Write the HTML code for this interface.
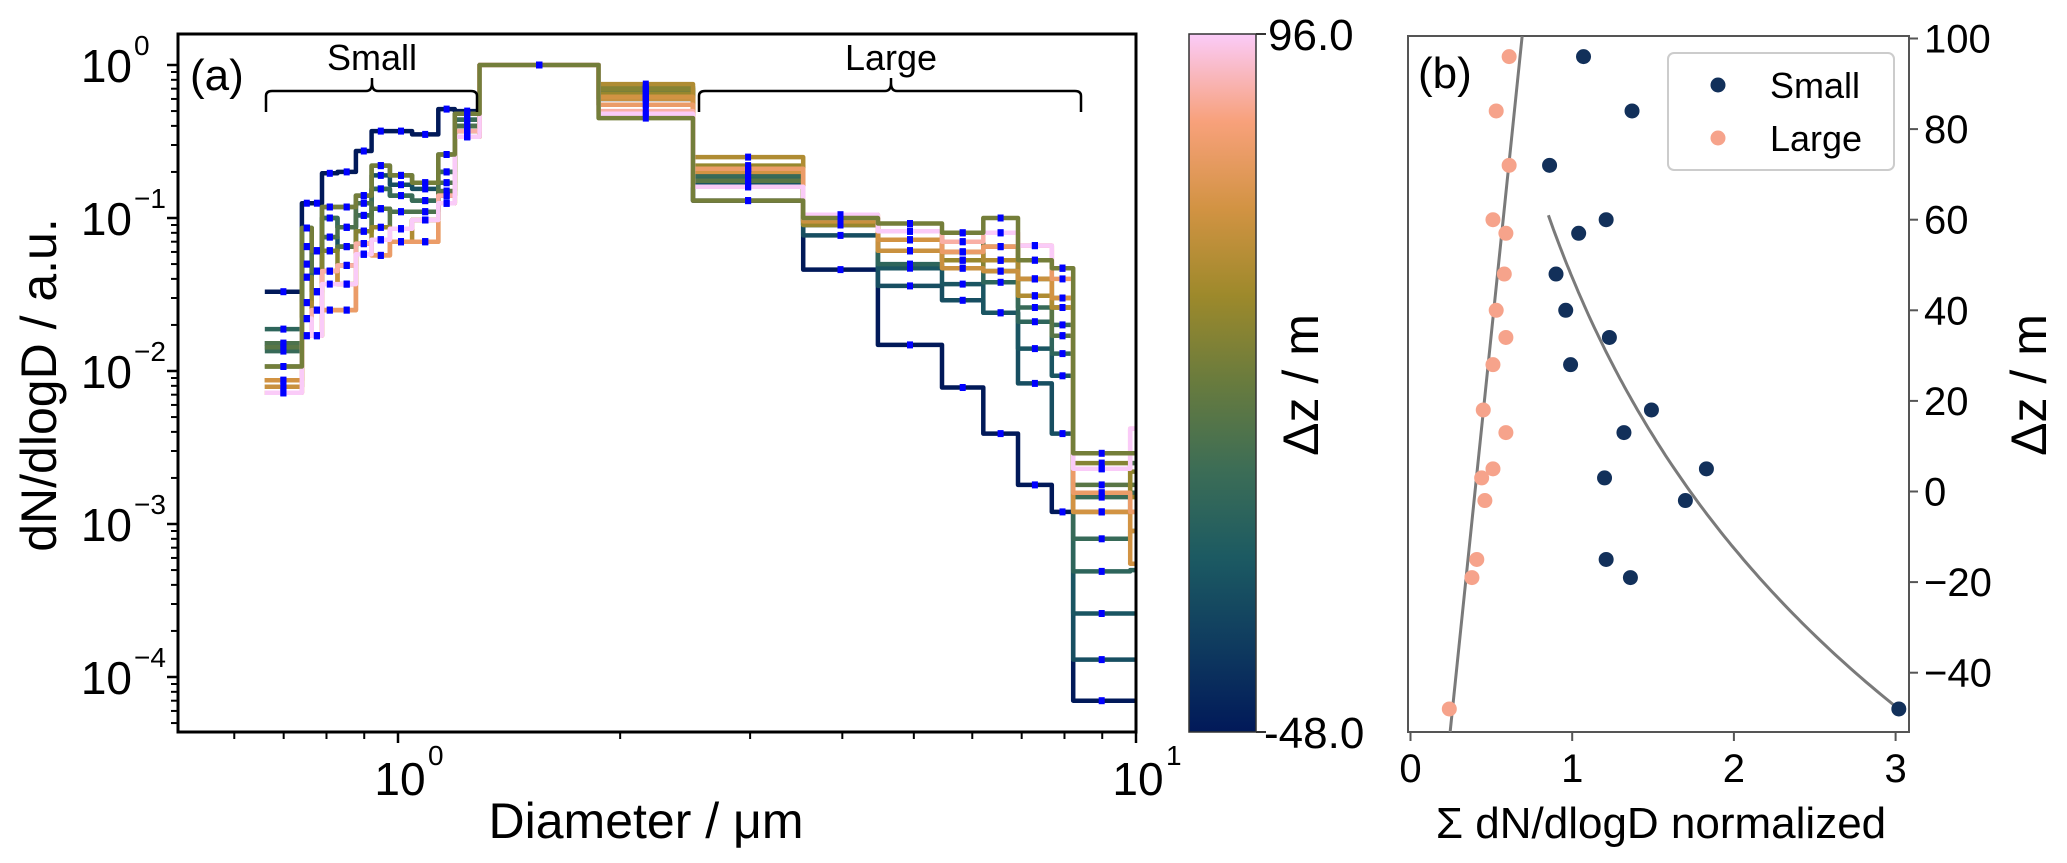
<!DOCTYPE html>
<html><head><meta charset="utf-8"><style>
html,body{margin:0;padding:0;background:#fff;}
svg{display:block;font-family:"Liberation Sans",sans-serif;}
</style></head><body>
<svg id="fig" width="2067" height="863" viewBox="0 0 2067 863" xmlns="http://www.w3.org/2000/svg">
<defs>
<clipPath id="clipA"><rect x="178" y="34" width="958" height="698"/></clipPath>
<linearGradient id="cmap" x1="0" y1="1" x2="0" y2="0">
<stop offset="0" stop-color="#011959"/><stop offset="0.125" stop-color="#0f3b5f"/><stop offset="0.25" stop-color="#1c5a62"/><stop offset="0.375" stop-color="#3c6d56"/><stop offset="0.5" stop-color="#687b3e"/><stop offset="0.625" stop-color="#9d892b"/><stop offset="0.75" stop-color="#d29343"/><stop offset="0.875" stop-color="#f8a17b"/><stop offset="1" stop-color="#facbf8"/>
</linearGradient>
</defs>
<g id="panelA"></g>
<g id="cbar"></g>
<g id="panelB"></g>
</svg>
<script>
// ---- Panel (a) data ----
const binEdges = [0.66,0.741,0.764,0.789,0.828,0.877,0.921,0.975,1.045,1.134,1.194,1.29,1.87,2.51,3.54,4.47,5.46,6.21,6.92,7.69,8.22,9.82,11];
const seriesZ = [-48,-19,-15,-2,3,5,13,18,34,40,48,57,60,72,84,96,28];
const sm48 = [0.033,0.125,0.125,0.196,0.2,0.274,0.37,0.37,0.352,0.515,0.5,1,0.6,0.13,0.046,0.0148,0.0078,0.0039,0.0018,0.0012,0.00007,0.00007];
const sm19 = [0.0152,0.065,0.061,0.1,0.087,0.125,0.19,0.165,0.155,0.2,0.44,1,0.55,0.16,0.077,0.036,0.029,0.024,0.0083,0.0039,0.00013,0.00013];
const sm15 = [0.0143,0.05,0.045,0.075,0.065,0.104,0.155,0.14,0.13,0.17,0.4,1,0.6,0.17,0.09,0.047,0.037,0.024,0.014,0.0093,0.00026,0.00026];
const sm2 = [0.0188,0.086,0.061,0.118,0.118,0.14,0.22,0.19,0.17,0.26,0.48,1,0.65,0.18,0.095,0.05,0.047,0.038,0.021,0.013,0.00049,0.0005];
const s3 = [0.0135,0.041,0.045,0.061,0.065,0.082,0.115,0.11,0.11,0.15,0.37,1,0.62,0.19,0.09,0.061,0.053,0.045,0.026,0.017,0.0008,0.0009];
const s5 = [0.0107,0.086,0.033,0.1,0.087,0.104,0.155,0.14,0.13,0.2,0.44,1,0.7,0.2,0.095,0.072,0.06,0.053,0.031,0.02,0.0015,0.0016];
const s13 = [0.0152,0.05,0.061,0.075,0.087,0.125,0.115,0.11,0.11,0.17,0.4,1,0.68,0.21,0.1,0.061,0.053,0.065,0.04,0.026,0.0012,0.0025];
const s18 = [0.0143,0.065,0.045,0.061,0.065,0.082,0.115,0.085,0.097,0.15,0.37,1,0.72,0.175,0.1,0.082,0.07,0.053,0.031,0.017,0.0018,0.0018];
const s34 = [0.0079,0.041,0.033,0.061,0.049,0.082,0.087,0.085,0.097,0.14,0.37,1,0.7,0.21,0.095,0.072,0.06,0.045,0.04,0.03,0.0025,0.0022];
const s40 = [0.0087,0.028,0.033,0.045,0.049,0.068,0.087,0.085,0.097,0.14,0.37,1,0.65,0.22,0.09,0.061,0.053,0.053,0.04,0.026,0.0023,0.0015];
const s48 = [0.0087,0.028,0.025,0.045,0.037,0.068,0.072,0.07,0.097,0.14,0.34,1,0.75,0.25,0.1,0.072,0.06,0.053,0.031,0.026,0.0016,0.0012];
const s57 = [0.0079,0.022,0.025,0.045,0.037,0.058,0.072,0.07,0.07,0.125,0.34,1,0.6,0.21,0.095,0.061,0.047,0.045,0.04,0.03,0.0012,0.0009];
const s60 = [0.0087,0.022,0.017,0.025,0.025,0.058,0.057,0.07,0.07,0.125,0.34,1,0.62,0.2,0.1,0.072,0.06,0.065,0.053,0.03,0.0012,0.00055];
const s72 = [0.0072,0.017,0.017,0.025,0.025,0.058,0.057,0.07,0.07,0.125,0.34,1,0.55,0.21,0.105,0.082,0.06,0.065,0.066,0.04,0.0016,0.0012];
const s84 = [0.0072,0.017,0.025,0.045,0.049,0.068,0.072,0.085,0.097,0.14,0.37,1,0.5,0.16,0.1,0.082,0.07,0.08,0.066,0.047,0.0023,0.0042];
const s96 = [0.0072,0.022,0.017,0.037,0.037,0.058,0.072,0.085,0.097,0.125,0.34,1,0.48,0.16,0.105,0.082,0.08,0.08,0.066,0.047,0.0023,0.0042];
const s28 = [0.0107,0.086,0.061,0.118,0.118,0.14,0.22,0.19,0.17,0.26,0.48,1,0.45,0.13,0.1,0.092,0.08,0.1,0.053,0.047,0.0029,0.0029];
const seriesVals = [sm48,sm19,sm15,sm2,s3,s5,s13,s18,s34,s40,s48,s57,s60,s72,s84,s96,s28];
const yTickExp = [0,-1,-2,-3,-4];
const xTickExp = [0,1];

// ---- Panel (b) data ----
const bZ = [96,84,72,60,57,48,40,34,28,18,13,5,3,-2,-15,-19,-48];
const bSmall = [1.07,1.37,0.86,1.21,1.04,0.90,0.96,1.23,0.99,1.49,1.32,1.83,1.20,1.70,1.21,1.36,3.02];
const bLarge = [0.61,0.53,0.61,0.51,0.59,0.58,0.53,0.59,0.51,0.45,0.59,0.51,0.44,0.46,0.41,0.38,0.24];
const largeFit = [0.399,0.0029];
const smallFit = [1.73,0.0116];
const smallFitRange = [-48,61];
const bXTicks = [0,1,2,3];
const bYTicks = [-40,-20,0,20,40,60,80,100];
const cbarRange = [-48,96];

const NS="http://www.w3.org/2000/svg";
function mk(tag,attrs,parent,text){const e=document.createElementNS(NS,tag);for(const k in attrs)e.setAttribute(k,attrs[k]);if(text!==undefined)e.textContent=text;parent.appendChild(e);return e;}
const L=Math.log10;
const xA=d=>398+738*L(d);
const yA=v=>65-153*L(v);
const xB=v=>1410.5+161.7*v;
const yB=z=>38.5+(100-z)*4.53;
const stops=[[0,[1,25,89]],[0.125,[15,59,95]],[0.25,[28,90,98]],[0.375,[60,109,86]],[0.5,[104,123,62]],[0.625,[157,137,43]],[0.75,[210,147,67]],[0.875,[248,161,123]],[1,[250,203,248]]];
function cmap(t){for(let i=0;i<stops.length-1;i++){const[a,ca]=stops[i],[b,cb]=stops[i+1];if(t<=b){const f=(t-a)/(b-a);return 'rgb('+ca.map((c,j)=>Math.round(c+(cb[j]-c)*f)).join(',')+')';}}return 'rgb(250,203,248)';}

const A=document.getElementById('panelA');
const plot=mk('g',{'clip-path':'url(#clipA)'},A);


seriesVals.forEach((vals,si)=>{
  const t=(seriesZ[si]-cbarRange[0])/(cbarRange[1]-cbarRange[0]);
  let d='M'+xA(binEdges[0]).toFixed(1)+','+yA(vals[0]).toFixed(1);
  for(let i=0;i<vals.length;i++){
    if(i>0)d+=' V'+yA(vals[i]).toFixed(1);
    d+=' H'+xA(binEdges[i+1]).toFixed(1);
  }
  const p=mk('path',{d:d,fill:'none',stroke:cmap(t),'stroke-width':4.5,'stroke-linejoin':'round'},plot);
  
  
});
seriesVals.forEach((vals,si)=>{
  vals.forEach((v,i)=>{
    const c=Math.sqrt(binEdges[i]*binEdges[i+1]);
    const r=mk('rect',{x:(xA(c)-3).toFixed(1),y:(yA(v)-3.5).toFixed(1),width:6,height:7,fill:'#0000ff'},plot);
    
    
  });
});
const fa=mk('rect',{x:178,y:34,width:958,height:698,fill:'none',stroke:'#000','stroke-width':3},A);


yTickExp.forEach(e=>{
  const y=yA(Math.pow(10,e));
  mk('line',{x1:178,x2:167,y1:y,y2:y,stroke:'#000','stroke-width':2.5},A);
  const tl=mk('text',{x:132,y:y+17,'font-size':46,'text-anchor':'end'},A,'10');
  
  
  mk('text',{x:134,y:y-10,'font-size':28,'text-anchor':'start'},A,(e<0?'\u2212':'')+Math.abs(e));
});
for(let e=-5;e<=0;e++){for(let m=2;m<=9;m++){const v=m*Math.pow(10,e);const y=yA(v);if(y>34&&y<732)mk('line',{x1:178,x2:171,y1:y,y2:y,stroke:'#000','stroke-width':2},A);}}
xTickExp.forEach(e=>{
  const x=xA(Math.pow(10,e));
  mk('line',{x1:x,x2:x,y1:732,y2:743,stroke:'#000','stroke-width':2.5},A);
  const tl=mk('text',{x:x+2,y:795,'font-size':46,'text-anchor':'middle'},A,'10');
  
  
  mk('text',{x:x+30,y:765,'font-size':28},A,String(e));
});
[0.6,0.7,0.8,0.9,2,3,4,5,6,7,8,9].forEach(v=>{const x=xA(v);mk('line',{x1:x,x2:x,y1:732,y2:739,stroke:'#000','stroke-width':2},A);});
let t=mk('text',{x:646,y:838,'font-size':50,'text-anchor':'middle'},A,'Diameter / \u03bcm');

t=mk('text',{x:0,y:0,'font-size':50,'text-anchor':'middle',transform:'translate(56,385) rotate(-90)'},A,'dN/dlogD / a.u.');

t=mk('text',{x:190,y:90,'font-size':44},A,'(a)');

function bracket(x1,x2,xm,y,name,label){
  const g=mk('g',{},A);
  
  
  mk('path',{d:`M${x1},112 L${x1},96 Q${x1},91 ${x1+6},91 L${xm-6},91 Q${xm},91 ${xm},83 L${xm},78 M${xm},83 Q${xm},91 ${xm+6},91 L${x2-6},91 Q${x2},91 ${x2},96 L${x2},112`,fill:'none',stroke:'#000','stroke-width':2.5},g);
  mk('text',{x:xm,y:70,'font-size':36,'text-anchor':'middle'},g,label);
}
bracket(266,477,372,91,'small-bracket','Small');
bracket(699,1081,891,91,'large-bracket','Large');

const C=document.getElementById('cbar');
let cb=mk('rect',{x:1189,y:34,width:67,height:698,fill:'url(#cmap)',stroke:'#333','stroke-width':1.5},C);

mk('line',{x1:1256,x2:1266,y1:34,y2:34,stroke:'#333','stroke-width':2},C);
mk('line',{x1:1256,x2:1266,y1:732,y2:732,stroke:'#333','stroke-width':2},C);
t=mk('text',{x:1268,y:50,'font-size':44},C,cbarRange[1].toFixed(1));

t=mk('text',{x:1264,y:748,'font-size':44},C,cbarRange[0].toFixed(1));

t=mk('text',{x:0,y:0,'font-size':50,'text-anchor':'middle',transform:'translate(1318,385) rotate(-90)'},C,'\u0394z / m');


const B=document.getElementById('panelB');
const fb=mk('rect',{x:1408,y:36,width:501,height:696,fill:'none',stroke:'#555','stroke-width':2},B);

bXTicks.forEach(v=>{const x=xB(v);mk('line',{x1:x,x2:x,y1:732,y2:741,stroke:'#555','stroke-width':2},B);
  const tl=mk('text',{x:x,y:782,'font-size':40,'text-anchor':'middle'},B,String(v));
  });
bYTicks.forEach(v=>{const y=yB(v);mk('line',{x1:1909,x2:1918,y1:y,y2:y,stroke:'#555','stroke-width':2},B);
  const tl=mk('text',{x:1924,y:y+14,'font-size':40},B,v<0?'\u2212'+Math.abs(v):String(v));
  });
t=mk('text',{x:1661,y:838,'font-size':44,'text-anchor':'middle'},B,'\u03a3 dN/dlogD normalized');

t=mk('text',{x:0,y:0,'font-size':50,'text-anchor':'middle',transform:'translate(2046,385) rotate(-90)'},B,'\u0394z / m');

t=mk('text',{x:1418,y:88,'font-size':44},B,'(b)');

const zTop=100.5,zBot=-53.1;
let fl=mk('line',{x1:xB(largeFit[0]+largeFit[1]*zBot),y1:yB(zBot),x2:xB(largeFit[0]+largeFit[1]*zTop),y2:yB(zTop),stroke:'#7a7a7a','stroke-width':3},B);

let pd='';for(let z=smallFitRange[1];z>=smallFitRange[0];z-=1){pd+=(pd?' L':'M')+xB(smallFit[0]*Math.exp(-smallFit[1]*z)).toFixed(1)+','+yB(z).toFixed(1);}
fl=mk('path',{d:pd,fill:'none',stroke:'#7a7a7a','stroke-width':3},B);

bZ.forEach((z,i)=>{
  let c=mk('circle',{cx:xB(bLarge[i]),cy:yB(z),r:7.5,fill:'#f6a38b'},B);
  
  c=mk('circle',{cx:xB(bSmall[i]),cy:yB(z),r:7.5,fill:'#12305a'},B);
  
});
const lg=mk('g',{},B);

mk('rect',{x:1668,y:53,width:226,height:117,rx:6,fill:'#fff','fill-opacity':0.85,stroke:'#cccccc','stroke-width':2},lg);
let le=mk('g',{},lg);
mk('circle',{cx:1718,cy:85,r:7.5,fill:'#12305a'},le);mk('text',{x:1770,y:98,'font-size':36},le,'Small');
le=mk('g',{},lg);
mk('circle',{cx:1718,cy:138,r:7.5,fill:'#f6a38b'},le);mk('text',{x:1770,y:151,'font-size':36},le,'Large');
</script>
</body></html>
